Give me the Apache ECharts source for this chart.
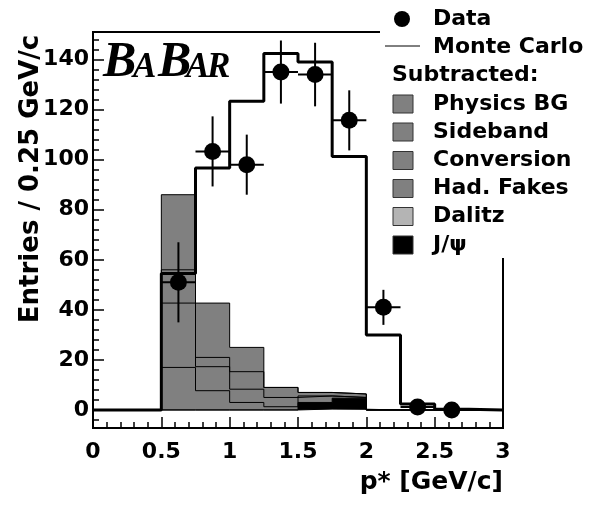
<!DOCTYPE html>
<html>
  <head>
    <meta charset="UTF-8" />
    <title>p* spectrum</title>
    <script src="https://cdn.jsdelivr.net/npm/echarts@6.0.0/dist/echarts.min.js"></script>
    <style>
      html, body { margin: 0; padding: 0; background: #fff; }
    </style>
  </head>
  <body>
    <div id="chart" style="width: 590px; height: 509px"></div>
  </body>
  <script>
    // bins are 0.25 GeV/c wide, lower edges
    const binLo = [0, 0.25, 0.5, 0.75, 1.0, 1.25, 1.5, 1.75, 2.0, 2.25, 2.5, 2.75];
    const binHi = 3.0;

    const monteCarlo = [0, 0, 54.5, 96.7, 123.3, 142.4, 139, 101.3, 30, 2.4, 0.3, 0];

    // subtracted backgrounds, bottom of the stack first
    const dalitz     = [0, 0, 0,    0,    0,   0,   0.4, 0.3, 0, 0, 0, 0];
    const jpsi       = [0, 0, 0,    0,    0,   0,   2.6, 4.4, 0, 0, 0, 0];
    const hadFakes   = [0, 0, 17,   7.7,  3,   1.3, 2.6, 0.3, 0, 0, 0, 0];
    const conversion = [0, 0, 25.7, 9.6,  5.3, 3.7, 0,   0,   0, 0, 0, 0];
    const sideband   = [0, 0, 13.3, 3.7,  7,   4,   1.4, 1.4, 0, 0, 0, 0];
    const physicsBG  = [0, 0, 30,   21.7, 9.7, 0,   0,   0,   0, 0, 0, 0];

    const dataX   = [0.625, 0.875, 1.125, 1.375, 1.625, 1.875, 2.125, 2.375, 2.625];
    const dataY   = [51, 103.3, 98, 135, 134, 115.7, 41, 1.2, 0];
    const dataErr = [16, 14, 12, 12.6, 12.7, 12, 7, 1.5, 0.5];
    const halfBin = 0.125;

    const yMajor = [0, 20, 40, 60, 80, 100, 120, 140];
    const yMin = -7.2, yMax = 151;

    const GRAY = '#808080', LIGHT = '#b4b4b4';
    const FONT = 'DejaVu Sans';

    let yMinor = [];
    for (let v = -4; v < yMax; v += 4) {
      if (v % 20 !== 0) yMinor.push(v);
    }

    // histogram -> points for a step line
    function steps(vals) {
      let pts = binLo.map((x, i) => [x, vals[i]]);
      pts.push([binHi, vals[vals.length - 1]]);
      return pts;
    }

    // stack by hand: running sum from the bottom layer up
    const layers = [
      { name: 'Dalitz', vals: dalitz, color: LIGHT },
      { name: 'J/psi', vals: jpsi, color: '#000' },
      { name: 'Had. Fakes', vals: hadFakes, color: GRAY },
      { name: 'Conversion', vals: conversion, color: GRAY },
      { name: 'Sideband', vals: sideband, color: GRAY },
      { name: 'Physics BG', vals: physicsBG, color: GRAY },
    ];
    let running = binLo.map(() => 0);
    layers.forEach(l => {
      running = running.map((s, i) => s + l.vals[i]);
      l.cum = running.slice();
    });

    // draw tallest first so the lower layers paint over it
    const stackSeries = layers.slice().reverse().map(l => ({
      name: l.name,
      type: 'line',
      step: 'end',
      symbol: 'none',
      z: 2,
      data: steps(l.cum),
      lineStyle: { color: '#000', width: 1 },
      areaStyle: { color: l.color, opacity: 1 },
    }));

    const labelStyle = { color: '#000', fontFamily: FONT, fontWeight: 'bold', fontSize: 22 };
    const tickStyle = { color: '#000', width: 1.5 };

    const legendRows = [
      { text: 'Physics BG', y: 104, color: GRAY },
      { text: 'Sideband', y: 132, color: GRAY },
      { text: 'Conversion', y: 160.5, color: GRAY },
      { text: 'Had. Fakes', y: 188.5, color: GRAY },
      { text: 'Dalitz', y: 216.5, color: LIGHT },
      { text: 'J/ψ', y: 245, color: '#000' },
    ];
    const legendText = (text, x, y) => ({
      type: 'text', x: x, y: y, z: 101,
      style: { text: text, fill: '#000', font: 'bold 22px "' + FONT + '"', verticalAlign: 'middle' },
    });
    let legend = [
      { type: 'rect', z: 100, shape: { x: 380, y: 0, width: 210, height: 258 }, style: { fill: '#fff' } },
      { type: 'circle', z: 101, shape: { cx: 402, cy: 19, r: 8 }, style: { fill: '#000' } },
      legendText('Data', 433, 19),
      { type: 'line', z: 101, shape: { x1: 385, y1: 46, x2: 420, y2: 46 }, style: { stroke: '#000', lineWidth: 1 } },
      legendText('Monte Carlo', 433, 47),
      legendText('Subtracted:', 392, 75.5),
    ];
    legendRows.forEach(r => {
      legend.push({ type: 'rect', z: 101, shape: { x: 393, y: r.y - 9, width: 20, height: 18 },
        style: { fill: r.color, stroke: '#333', lineWidth: 1 } });
      legend.push(legendText(r.text, 433, r.y));
    });

    // BABAR logo, big and small capitals sharing one baseline
    const logoBase = 77;
    const logo = [
      ['B', 103, 50], ['A', 133, 35], ['B', 158, 50], ['A', 186, 35], ['R', 207, 35],
    ].map(([ch, x, size]) => ({
      type: 'text', x: x, y: logoBase + Math.round(size * 0.22), z: 101,
      style: { text: ch, fill: '#000', font: 'italic bold ' + size + 'px "Liberation Serif"', verticalAlign: 'bottom' },
    }));

    const titles = [
      { type: 'text', x: 31, y: 179, rotation: Math.PI / 2, z: 101,
        style: { text: 'Entries / 0.25 GeV/c', fill: '#000', font: 'bold 26px "' + FONT + '"',
                 align: 'center', verticalAlign: 'middle' } },
      { type: 'text', x: 503, y: 482, z: 101,
        style: { text: 'p* [GeV/c]', fill: '#000', font: 'bold 25px "' + FONT + '"',
                 align: 'right', verticalAlign: 'middle' } },
    ];

    let myChart = echarts.init(document.getElementById('chart'));
    myChart.setOption({
      animation: false,
      backgroundColor: '#fff',
      grid: { left: 93, right: 87, top: 32, bottom: 81, show: true, borderColor: '#000', borderWidth: 2 },
      xAxis: {
        type: 'value', min: 0, max: 3, interval: 0.5,
        axisLine: { onZero: false, lineStyle: { color: '#000', width: 2 } },
        axisTick: { inside: true, length: 11, lineStyle: tickStyle },
        minorTick: { show: true, splitNumber: 5, length: 6, lineStyle: tickStyle },
        axisLabel: Object.assign({ margin: 13 }, labelStyle),
        splitLine: { show: false },
      },
      yAxis: [
        {
          type: 'value', min: yMin, max: yMax,
          axisLine: { show: true, onZero: false, lineStyle: { color: '#000', width: 2 } },
          axisTick: { show: true, inside: true, length: 11, lineStyle: tickStyle, customValues: yMajor },
          axisLabel: Object.assign({ margin: 4, customValues: yMajor }, labelStyle),
          splitLine: { show: false },
        },
        {
          type: 'value', min: yMin, max: yMax, position: 'left',
          axisLine: { show: false, onZero: false },
          axisTick: { show: true, inside: true, length: 6, lineStyle: tickStyle, customValues: yMinor },
          axisLabel: { show: false },
          splitLine: { show: false },
        },
      ],
      graphic: legend.concat(logo, titles),
      series: stackSeries.concat([
        {
          name: 'Monte Carlo',
          type: 'line',
          step: 'end',
          symbol: 'none',
          z: 3,
          data: steps(monteCarlo),
          lineStyle: { color: '#000', width: 3 },
        },
        {
          name: 'Data errors',
          type: 'custom',
          z: 4,
          data: dataX.map((x, i) => [x, dataY[i], dataErr[i]]),
          encode: { x: 0, y: 1 },
          renderItem: function (params, api) {
            const x = api.value(0), y = api.value(1), e = api.value(2);
            const top = api.coord([x, y + e]), bot = api.coord([x, y - e]);
            const lft = api.coord([x - halfBin, y]), rgt = api.coord([x + halfBin, y]);
            const st = { stroke: '#000', lineWidth: 2 };
            return {
              type: 'group',
              children: [
                { type: 'line', shape: { x1: top[0], y1: top[1], x2: bot[0], y2: bot[1] }, style: st },
                { type: 'line', shape: { x1: lft[0], y1: lft[1], x2: rgt[0], y2: rgt[1] }, style: st },
              ],
            };
          },
        },
        {
          name: 'Data',
          type: 'scatter',
          z: 5,
          symbolSize: 17,
          itemStyle: { color: '#000', opacity: 1 },
          data: dataX.map((x, i) => [x, dataY[i]]),
        },
      ]),
    });
  </script>
</html>
